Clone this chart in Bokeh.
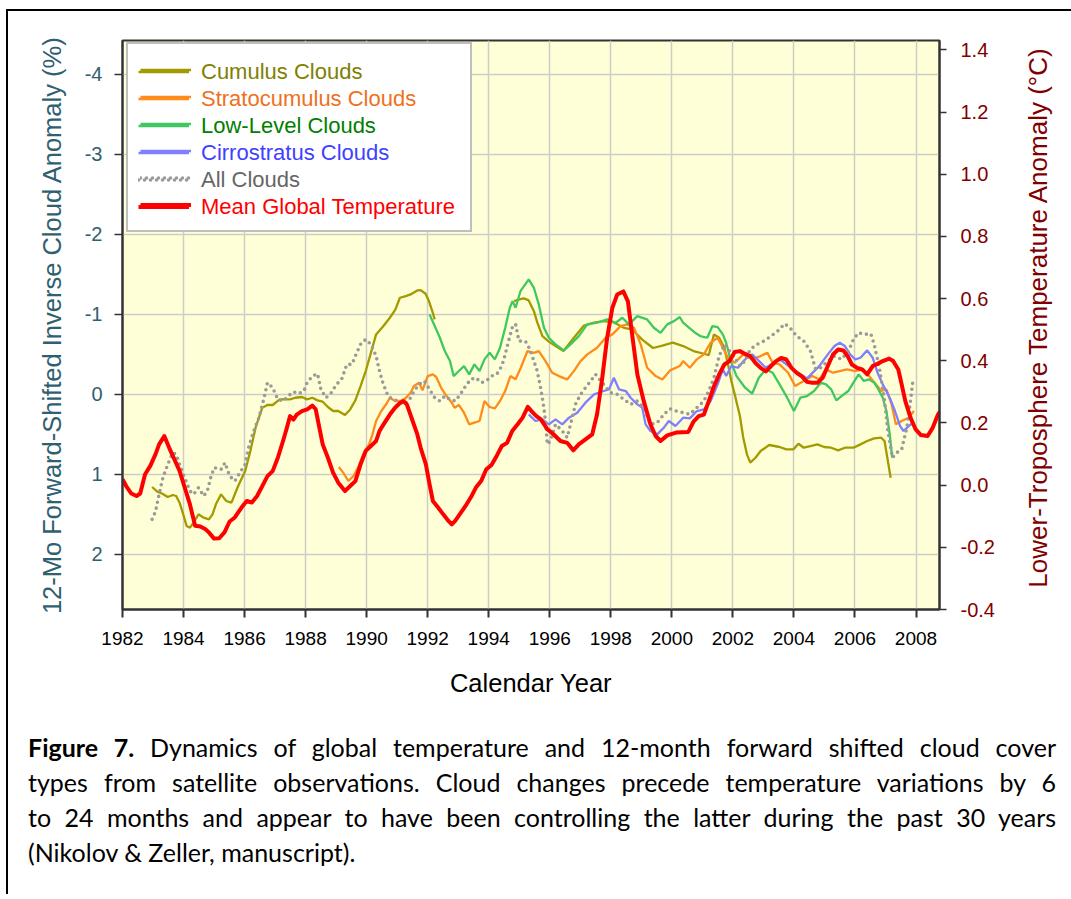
import math
from bokeh.plotting import figure
from bokeh.models import (Range1d, LinearAxis, FixedTicker, PrintfTickFormatter,
                          Legend, LegendItem, Div)
from bokeh.layouts import column, row
from bokeh.embed import file_html
from bokeh.resources import INLINE

NaN = float("nan")

# ---------------- data ----------------
x_ticks = list(range(1982, 2009, 2))
cloud_ticks = [-4, -3, -2, -1, 0, 1, 2]
temp_ticks = [-0.4, -0.2, 0.0, 0.2, 0.4, 0.6, 0.8, 1.0, 1.2, 1.4]

temp_year = [1982.00, 1982.12, 1982.29, 1982.46, 1982.58, 1982.74, 1982.91, 1983.08, 1983.20, 1983.37,
             1983.53, 1983.70, 1983.87, 1984.04, 1984.21, 1984.38, 1984.55, 1984.72, 1984.83, 1985.00,
             1985.17, 1985.34, 1985.51, 1985.68, 1985.90, 1986.07, 1986.24, 1986.41, 1986.58, 1986.75,
             1986.92, 1987.09, 1987.26, 1987.37, 1987.49, 1987.60, 1987.71, 1987.88, 1988.05, 1988.22,
             1988.33, 1988.44, 1988.56, 1988.73, 1988.90, 1989.07, 1989.29, 1989.46, 1989.63, 1989.80,
             1989.97, 1990.14, 1990.31, 1990.42, 1990.59, 1990.76, 1990.93, 1991.10, 1991.21, 1991.32,
             1991.49, 1991.66, 1991.77, 1991.94, 1992.06, 1992.17, 1992.34, 1992.51, 1992.68, 1992.79,
             1992.90, 1993.07, 1993.24, 1993.41, 1993.58, 1993.75, 1993.92, 1994.09, 1994.26, 1994.43,
             1994.60, 1994.77, 1994.94, 1995.11, 1995.28, 1995.40, 1995.56, 1995.70, 1995.92, 1996.13,
             1996.35, 1996.57, 1996.77, 1996.95, 1997.17, 1997.39, 1997.55, 1997.72, 1997.88, 1998.05,
             1998.21, 1998.41, 1998.56, 1998.70, 1998.87, 1999.08, 1999.30, 1999.47, 1999.63, 1999.85,
             2000.14, 2000.54, 2000.71, 2000.88, 2001.05, 2001.21, 2001.38, 2001.55, 2001.72, 2001.89,
             2002.06, 2002.23, 2002.40, 2002.57, 2002.74, 2002.91, 2003.08, 2003.25, 2003.42, 2003.58,
             2003.75, 2003.92, 2004.09, 2004.26, 2004.43, 2004.60, 2004.77, 2004.94, 2005.11, 2005.28,
             2005.45, 2005.62, 2005.76, 2005.90, 2006.07, 2006.24, 2006.40, 2006.58, 2006.74, 2006.91,
             2007.12, 2007.25, 2007.42, 2007.53, 2007.65, 2007.82, 2007.99, 2008.16, 2008.38, 2008.55,
             2008.72, 2008.78]
temp_val = [0.019, -0.003, -0.027, -0.035, -0.027, 0.035, 0.062, 0.099, 0.131, 0.158,
            0.120, 0.083, 0.046, -0.008, -0.062, -0.131, -0.133, -0.142, -0.152, -0.172,
            -0.171, -0.152, -0.117, -0.104, -0.072, -0.051, -0.056, -0.035, -0.003, 0.029,
            0.045, 0.088, 0.142, 0.179, 0.222, 0.211, 0.227, 0.238, 0.244, 0.256,
            0.244, 0.190, 0.131, 0.088, 0.040, 0.008, -0.019, -0.003, 0.013, 0.067,
            0.110, 0.126, 0.142, 0.174, 0.201, 0.227, 0.249, 0.265, 0.270, 0.259,
            0.211, 0.163, 0.120, 0.067, 0.003, -0.051, -0.072, -0.094, -0.115, -0.126,
            -0.115, -0.091, -0.067, -0.040, -0.008, 0.013, 0.051, 0.065, 0.094, 0.126,
            0.136, 0.174, 0.195, 0.217, 0.252, 0.238, 0.222, 0.212, 0.180, 0.163,
            0.142, 0.136, 0.112, 0.131, 0.147, 0.163, 0.228, 0.345, 0.474, 0.570,
            0.613, 0.623, 0.591, 0.484, 0.356, 0.270, 0.195, 0.158, 0.142, 0.160,
            0.169, 0.171, 0.204, 0.222, 0.227, 0.270, 0.318, 0.356, 0.388, 0.399,
            0.428, 0.431, 0.422, 0.415, 0.393, 0.377, 0.366, 0.383, 0.399, 0.409,
            0.404, 0.377, 0.361, 0.350, 0.332, 0.329, 0.329, 0.345, 0.383, 0.420,
            0.436, 0.433, 0.415, 0.388, 0.377, 0.372, 0.356, 0.383, 0.390, 0.399,
            0.407, 0.399, 0.372, 0.324, 0.270, 0.217, 0.179, 0.161, 0.158, 0.185,
            0.227, 0.236]

cumulus_year = [1982.97, 1983.14, 1983.31, 1983.48, 1983.65, 1983.76, 1983.87, 1983.99, 1984.10, 1984.21,
                1984.33, 1984.49, 1984.66, 1984.83, 1984.95, 1985.06, 1985.23, 1985.40, 1985.57, 1985.79,
                1986.02, 1986.19, 1986.36, 1986.58, 1986.75, 1986.92, 1987.15, 1987.32, 1987.49, 1987.66,
                1987.88, 1988.05, 1988.22, 1988.39, 1988.56, 1988.73, 1988.90, 1989.07, 1989.29, 1989.46,
                1989.63, 1989.80, 1989.97, 1990.14, 1990.31, 1990.55, 1990.76, 1990.94, 1991.09, 1991.28,
                1991.44, 1991.66, 1991.77, 1991.93, 1992.04, 1992.15, 1992.23, 1993.50,
                1994.83, 1995.00, 1995.15, 1995.31, 1995.48, 1995.59, 1995.76, 1995.97, 1996.19, 1996.45,
                1996.79, 1997.12, 1997.45, 1997.77, 1998.10, 1998.43, 1998.70, 1999.02, 1999.38, 1999.69,
                2000.03, 2000.37, 2000.71, 2001.05, 2001.21, 2001.38, 2001.55, 2001.72, 2001.84, 2001.95,
                2002.06, 2002.23, 2002.34, 2002.46, 2002.57, 2002.74, 2002.91, 2003.19, 2003.53, 2003.75,
                2003.98, 2004.15, 2004.32, 2004.54, 2004.77, 2004.99, 2005.22, 2005.45, 2005.67, 2005.95,
                2006.18, 2006.40, 2006.63, 2006.86, 2006.97, 2007.06, 2007.17]
cumulus_val = [1.158, 1.217, 1.242, 1.283, 1.258, 1.271, 1.354, 1.500, 1.646, 1.667,
               1.604, 1.500, 1.542, 1.563, 1.500, 1.375, 1.250, 1.333, 1.354, 1.146,
               0.958, 0.708, 0.417, 0.167, 0.133, 0.133, 0.063, 0.063, 0.063, 0.042,
               0.033, 0.063, 0.042, 0.075, 0.092, 0.158, 0.208, 0.208, 0.258, 0.188,
               0.075, -0.104, -0.292, -0.521, -0.750, -0.855, -0.958, -1.060, -1.208, -1.229,
               -1.250, -1.300, -1.304, -1.258, -1.167, -1.042, -0.938, NaN,
               -1.167, -1.187, -1.200, -1.175, -1.040, -0.900, -0.729, -0.660, -0.604, -0.542,
               -0.708, -0.860, -0.896, -0.917, -0.900, -0.833, -0.812, -0.688, -0.580, -0.610,
               -0.646, -0.604, -0.542, -0.508, -0.492, -0.750, -0.708, -0.583, -0.375, -0.167,
               0.000, 0.271, 0.542, 0.750, 0.854, 0.792, 0.708, 0.633, 0.658, 0.688,
               0.688, 0.617, 0.667, 0.646, 0.625, 0.658, 0.667, 0.700, 0.667, 0.667,
               0.625, 0.583, 0.550, 0.542, 0.583, 0.792, 1.042]

strato_year = [1989.09, 1989.23, 1989.40, 1989.57, 1989.74, 1989.91, 1990.08, 1990.19, 1990.31, 1990.48,
               1990.65, 1990.76, 1990.93, 1991.10, 1991.27, 1991.44, 1991.55, 1991.72, 1991.83, 1992.00,
               1992.17, 1992.28, 1992.45, 1992.62, 1992.79, 1992.88, 1993.02, 1993.19, 1993.36, 1993.53,
               1993.70, 1993.86, 1994.03, 1994.20, 1994.37, 1994.54, 1994.71, 1994.88, 1995.05, 1995.27,
               1995.48, 1995.64, 1995.86, 1996.08, 1996.30, 1996.57, 1996.79, 1997.01, 1997.23, 1997.55,
               1997.83, 1998.05, 1998.32, 1998.54, 1998.76, 1998.98, 1999.19, 1999.47, 1999.69, 1999.94,
               2000.26, 2000.37, 2000.59, 2000.82, 2001.05, 2001.27, 2001.50, 2001.67, 2001.84, 2002.06,
               2002.34, 2002.63, 2002.91, 2003.13, 2003.30, 2003.53, 2003.81, 2004.04, 2004.32, 2004.60,
               2004.83, 2005.05, 2005.28, 2005.50, 2005.73, 2006.01, 2006.24, 2006.46, 2006.69, 2006.86,
               2007.03, 2007.20, 2007.34, 2007.53, 2007.76, 2007.93]
strato_val = [0.908, 0.979, 1.083, 1.021, 0.896, 0.729, 0.625, 0.500, 0.333, 0.208,
              0.117, 0.042, 0.083, 0.083, 0.050, -0.021, -0.104, -0.146, -0.050, -0.229,
              -0.250, -0.217, -0.075, 0.021, 0.104, 0.167, 0.133, 0.229, 0.375, 0.354,
              0.333, 0.083, 0.158, 0.175, 0.083, -0.042, -0.229, -0.188, -0.333, -0.542,
              -0.520, -0.541, -0.416, -0.270, -0.229, -0.187, -0.291, -0.416, -0.500, -0.583,
              -0.708, -0.750, -0.854, -0.875, -0.833, -0.625, -0.333, -0.229, -0.187, -0.300,
              -0.354, -0.417, -0.333, -0.438, -0.500, -0.646, -0.708, -0.583, -0.458, -0.396,
              -0.500, -0.438, -0.479, -0.521, -0.396, -0.375, -0.271, -0.104, -0.167, -0.229,
              -0.188, -0.313, -0.271, -0.292, -0.313, -0.292, -0.313, -0.229, -0.125, -0.042,
              -0.063, 0.125, 0.375, 0.333, 0.292, 0.208]

low_year = [1992.06, 1992.23, 1992.40, 1992.56, 1992.73, 1992.85, 1993.02, 1993.19, 1993.36, 1993.53,
            1993.70, 1993.86, 1994.03, 1994.20, 1994.37, 1994.54, 1994.69, 1994.78, 1994.88, 1995.04,
            1995.31, 1995.48, 1995.64, 1995.81, 1995.97, 1996.19, 1996.46, 1996.68, 1996.95, 1997.23,
            1997.55, 1997.88, 1998.16, 1998.38, 1998.59, 1998.87, 1999.19, 1999.41, 1999.63, 1999.85,
            2000.07, 2000.26, 2000.37, 2000.54, 2000.76, 2000.93, 2001.16, 2001.33, 2001.50, 2001.67,
            2001.78, 2001.95, 2002.12, 2002.40, 2002.63, 2002.85, 2003.08, 2003.30, 2003.53, 2003.75,
            2004.00, 2004.21, 2004.43, 2004.66, 2004.88, 2005.05, 2005.22, 2005.39, 2005.56, 2005.78,
            2005.95, 2006.12, 2006.29, 2006.46, 2006.63, 2006.74, 2006.91, 2007.03, 2007.14, 2007.22]
low_val = [-1.000, -0.854, -0.708, -0.542, -0.417, -0.229, -0.292, -0.354, -0.250, -0.375,
           -0.292, -0.438, -0.521, -0.438, -0.583, -0.833, -1.083, -1.166, -1.083, -1.290,
           -1.437, -1.333, -1.125, -0.833, -0.708, -0.625, -0.550, -0.625, -0.729, -0.875,
           -0.896, -0.937, -0.896, -0.958, -0.875, -0.979, -0.937, -0.833, -0.770, -0.875,
           -0.916, -0.967, -0.896, -0.842, -0.771, -0.729, -0.708, -0.854, -0.842, -0.750,
           -0.646, -0.396, -0.229, -0.083, -0.008, -0.208, -0.313, -0.271, -0.125, 0.021,
           0.208, 0.042, 0.021, -0.042, -0.146, -0.125, -0.063, 0.075, 0.021, -0.042,
           -0.146, -0.250, -0.167, -0.188, -0.146, -0.083, 0.042, 0.208, 0.500, 0.792]

cirro_year = [1995.31, 1995.53, 1995.76, 1995.97, 1996.19, 1996.41, 1996.63, 1996.90, 1997.17, 1997.45,
              1997.77, 1997.94, 1998.10, 1998.27, 1998.49, 1998.65, 1998.87, 1999.03, 1999.14, 1999.30,
              1999.52, 1999.74, 1999.90, 2000.12, 2000.37, 2000.59, 2000.82, 2001.05, 2001.27, 2001.50,
              2001.67, 2001.78, 2001.95, 2002.17, 2002.40, 2002.63, 2003.08, 2003.53, 2003.98, 2004.43,
              2004.83, 2005.11, 2005.33, 2005.50, 2005.67, 2005.84, 2006.01, 2006.18, 2006.40, 2006.58,
              2006.74, 2006.91, 2007.14, 2007.31, 2007.48, 2007.59, 2007.76, 2007.91]
cirro_val = [0.250, 0.333, 0.312, 0.375, 0.312, 0.375, 0.291, 0.229, 0.104, 0.000,
             -0.042, -0.062, -0.208, -0.062, -0.042, 0.042, 0.125, 0.166, 0.375, 0.458,
             0.500, 0.416, 0.333, 0.396, 0.292, 0.300, 0.208, 0.188, 0.083, -0.125,
             -0.313, -0.229, -0.354, -0.333, -0.438, -0.500, -0.333, -0.438, -0.313, -0.200,
             -0.354, -0.500, -0.604, -0.646, -0.604, -0.500, -0.438, -0.458, -0.550, -0.458,
             -0.271, -0.125, 0.042, 0.208, 0.396, 0.458, 0.396, 0.354]

all_year = [1982.97, 1983.08, 1983.20, 1983.31, 1983.42, 1983.53, 1983.65, 1983.76, 1983.87, 1983.99,
            1984.10, 1984.21, 1984.33, 1984.49, 1984.66, 1984.78, 1984.89, 1985.00, 1985.23, 1985.36,
            1985.51, 1985.68, 1985.85, 1986.02, 1986.13, 1986.30, 1986.47, 1986.64, 1986.75, 1986.92,
            1987.09, 1987.26, 1987.43, 1987.60, 1987.77, 1987.94, 1988.05, 1988.22, 1988.39, 1988.50,
            1988.67, 1988.84, 1989.01, 1989.18, 1989.35, 1989.52, 1989.63, 1989.80, 1989.97, 1990.14,
            1990.31, 1990.42, 1990.53, 1990.70, 1990.87, 1991.04, 1991.21, 1991.38, 1991.55, 1991.72,
            1991.89, 1992.06, 1992.23, 1992.40, 1992.56, 1992.73, 1992.90, 1993.07, 1993.24, 1993.41,
            1993.58, 1993.75, 1993.92, 1994.09, 1994.26, 1994.43, 1994.54, 1994.65, 1994.77, 1994.88,
            1994.99, 1995.20, 1995.35, 1995.48, 1995.59, 1995.70, 1995.79, 1995.86, 1995.92, 1996.02,
            1996.19, 1996.41, 1996.57, 1996.68, 1996.84, 1997.01, 1997.17, 1997.34, 1997.50, 1997.72,
            1997.99, 1998.21, 1998.43, 1998.65, 1998.87, 1999.08, 1999.30, 1999.52, 1999.74, 1999.94,
            2000.14, 2000.37, 2000.59, 2000.82, 2001.05, 2001.21, 2001.38, 2001.55, 2001.72, 2001.89,
            2002.06, 2002.23, 2002.40, 2002.57, 2002.79, 2003.02, 2003.25, 2003.47, 2003.70, 2003.87,
            2004.09, 2004.32, 2004.54, 2004.71, 2004.88, 2005.11, 2005.33, 2005.56, 2005.79, 2005.95,
            2006.12, 2006.29, 2006.52, 2006.63, 2006.80, 2006.97, 2007.08, 2007.23, 2007.37, 2007.53,
            2007.70, 2007.82, 2007.91]
all_val = [1.563, 1.467, 1.250, 1.063, 0.938, 0.833, 0.729, 0.750, 0.875, 1.000,
           1.104, 1.208, 1.250, 1.167, 1.271, 1.208, 1.042, 0.917, 0.938, 0.854,
           1.021, 1.083, 0.979, 0.875, 0.667, 0.458, 0.292, 0.042, -0.146, -0.083,
           0.063, 0.083, 0.021, -0.033, -0.008, -0.042, -0.146, -0.229, -0.258, -0.063,
           0.042, -0.021, -0.125, -0.188, -0.375, -0.375, -0.479, -0.625, -0.688, -0.625,
           -0.479, -0.292, -0.146, 0.021, 0.063, 0.083, 0.125, 0.083, -0.042, -0.125,
           -0.167, -0.063, 0.042, 0.083, 0.021, 0.063, 0.083, 0.000, -0.104, -0.188,
           -0.208, -0.146, -0.167, -0.229, -0.250, -0.354, -0.500, -0.667, -0.833, -0.880,
           -0.666, -0.666, -0.562, -0.416, -0.291, -0.083, 0.125, 0.333, 0.625, 0.583,
           0.375, 0.458, 0.541, 0.375, 0.125, 0.000, -0.083, -0.166, -0.250, -0.146,
           -0.021, 0.000, 0.063, 0.125, 0.083, 0.166, 0.375, 0.354, 0.250, 0.180,
           0.208, 0.229, 0.250, 0.167, 0.083, -0.042, -0.208, -0.479, -0.625, -0.542,
           -0.458, -0.354, -0.417, -0.563, -0.625, -0.667, -0.729, -0.792, -0.883, -0.833,
           -0.729, -0.667, -0.542, -0.313, -0.333, -0.417, -0.479, -0.438, -0.542, -0.688,
           -0.771, -0.750, -0.758, -0.625, -0.333, 0.083, 0.458, 0.792, 0.729, 0.688,
           0.417, 0.083, -0.208]

legend_labels = ["Cumulus Clouds", "Stratocumulus Clouds", "Low-Level Clouds",
                 "Cirrostratus Clouds", "All Clouds", "Mean Global Temperature"]

left_title = "12-Mo Forward-Shifted Inverse Cloud Anomaly (%)"
right_title = "Lower-Troposphere Temperature Anomaly (\u00b0C)"
x_title = "Calendar Year"

caption_lines = [
    "<b>Figure 7.</b> Dynamics of global temperature and 12-month forward shifted cloud cover",
    "types from satellite observations. Cloud changes precede temperature variations by 6",
    "to 24 months and appear to have been controlling the latter during the past 30 years",
    "(Nikolov &amp; Zeller, manuscript).",
]

# ---------------- styling ----------------
FONT = "Liberation Sans"
line_colors = ["#A39A00", "#FF8C1A", "#40C860", "#7F7FFF", "#9A9A9A", "#FF0000"]
text_colors = ["#808000", "#F07020", "#008000", "#4040FF", "#666666", "#FF0000"]
LEFT_C = "#2F6070"
RIGHT_C = "#800000"
AX_C = "#333333"

p = figure(width=995, height=705,
           x_range=Range1d(1982, 2008.77), y_range=Range1d(2.69, -4.425),
           output_backend="svg", toolbar_location=None,
           min_border_left=114, min_border_right=64, min_border_top=29, min_border_bottom=107)
p.extra_y_ranges = {"temp": Range1d(-0.4, 1.43)}
p.background_fill_color = "#FFFFD7"
p.border_fill_color = "white"
p.outline_line_color = AX_C
p.outline_line_width = 2

for g in (p.xgrid, p.ygrid):
    g.grid_line_color = "#CDCDC6"
    g.grid_line_width = 1.5

# x axis
xa = p.xaxis[0]
xa.ticker = FixedTicker(ticks=x_ticks)
xa.axis_label = x_title
xa.axis_label_text_font = FONT
xa.axis_label_text_font_size = "25.5px"
xa.axis_label_text_font_style = "normal"
xa.axis_label_text_color = "black"
xa.axis_label_standoff = 21
xa.major_label_text_font = FONT
xa.major_label_text_font_size = "19px"
xa.major_label_text_color = "black"
xa.major_label_standoff = 14
xa.major_tick_out = 8
xa.major_tick_in = 0
xa.minor_tick_out = 0
xa.minor_tick_in = 0
xa.axis_line_color = AX_C
xa.axis_line_width = 2
xa.major_tick_line_color = AX_C
xa.major_tick_line_width = 2

# left axis
ya = p.yaxis[0]
ya.ticker = FixedTicker(ticks=cloud_ticks)
ya.formatter = PrintfTickFormatter(format="%d")
ya.axis_label = left_title
ya.axis_label_text_font = FONT
ya.axis_label_text_font_size = "25.5px"
ya.axis_label_text_font_style = "normal"
ya.axis_label_text_color = LEFT_C
ya.axis_label_standoff = 16
ya.major_label_text_font = FONT
ya.major_label_text_font_size = "20px"
ya.major_label_text_color = LEFT_C
ya.major_label_standoff = 12
ya.major_tick_out = 8
ya.major_tick_in = 0
ya.minor_tick_out = 0
ya.minor_tick_in = 0
ya.axis_line_color = AX_C
ya.axis_line_width = 2
ya.major_tick_line_color = AX_C
ya.major_tick_line_width = 1.5

# right axis (ticks)
ra = LinearAxis(y_range_name="temp", ticker=FixedTicker(ticks=temp_ticks),
                formatter=PrintfTickFormatter(format="%.1f"))
ra.major_label_text_font = FONT
ra.major_label_text_font_size = "20px"
ra.major_label_text_color = RIGHT_C
ra.major_label_standoff = 14
ra.major_tick_out = 7
ra.major_tick_in = 0
ra.minor_tick_out = 0
ra.minor_tick_in = 0
ra.axis_line_color = AX_C
ra.axis_line_width = 2
ra.major_tick_line_color = AX_C
ra.major_tick_line_width = 1.5
p.add_layout(ra, "right")

# lines
r_cu = p.line(cumulus_year, cumulus_val, line_color=line_colors[0], line_width=2.3)
r_st = p.line(strato_year, strato_val, line_color=line_colors[1], line_width=2.3)
r_lo = p.line(low_year, low_val, line_color=line_colors[2], line_width=2.3)
r_ci = p.line(cirro_year, cirro_val, line_color=line_colors[3], line_width=2.3)
r_al = p.line(all_year, all_val, line_color=line_colors[4], line_width=3.6,
              line_dash="0 6", line_cap="round")
r_te = p.line(temp_year, temp_val, line_color=line_colors[5], line_width=4,
              y_range_name="temp", line_join="round")
renderers = [r_cu, r_st, r_lo, r_ci, r_al, r_te]

common = dict(margin=0, padding=12, spacing=0, label_height=27, glyph_height=27,
              glyph_width=51, label_standoff=12)

box = Legend(items=[LegendItem(label=" ", renderers=[r]) for r in renderers],
             location=(4, 377), label_width=255, label_text_font_size="10px",
             border_line_color="#7F7F7F", border_line_width=2,
             background_fill_color="white", background_fill_alpha=1.0, **common)
p.add_layout(box)

n = len(renderers)
for i, (r, txt, col) in enumerate(zip(renderers, legend_labels, text_colors)):
    lg = Legend(items=[LegendItem(label=txt, renderers=[r])],
                location=(4, 377 + 27 * (n - 1 - i)), label_width=20,
                label_text_font=FONT, label_text_font_size="22px", label_text_color=col,
                border_line_alpha=0, background_fill_alpha=0, **common)
    p.add_layout(lg)

# right-hand title, reading bottom-to-top, beside the figure
rt_html = ('<div style="position:relative;width:50px;height:690px;">'
           '<div style="position:absolute;left:29.5px;top:301.5px;transform:translate(-50%,-50%) rotate(-90deg);'
           'white-space:nowrap;font-family:\'Liberation Sans\';font-size:26px;line-height:1;color:'
           + RIGHT_C + ';">' + right_title + '</div></div>')
rt = Div(text=rt_html, width=50, height=690)

# caption
rows = []
for k, ln in enumerate(caption_lines):
    last = "left" if k == len(caption_lines) - 1 else "justify"
    rows.append('<div style="text-align:justify;text-align-last:%s;white-space:nowrap;">%s</div>'
                % (last, ln))
cap_html = ('<div style="box-sizing:border-box;font-family:Lato, \'Open Sans\', sans-serif;'
            'font-size:25px;line-height:35px;color:black;width:1043px;padding:9px 0 0 15px;">'
            + "".join(rows) + '</div>')
cap = Div(text=cap_html, width=1055, height=168)

layout = column(row(p, rt), cap,
                styles={"border-left": "2px solid black", "border-top": "2px solid black",
                        "margin-left": "6px", "margin-top": "9px"})

open("out.html", "w").write(file_html(layout, INLINE))
